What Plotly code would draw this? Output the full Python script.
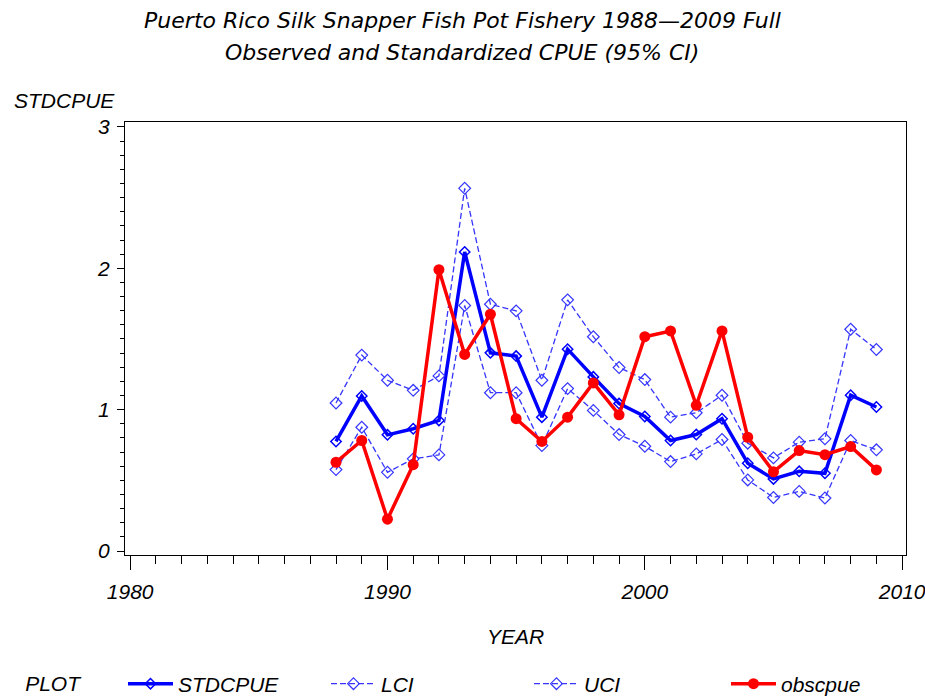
import plotly.graph_objects as go

years = list(range(1988, 2010))
stdcpue = [0.775, 1.097, 0.822, 0.865, 0.924, 2.116, 1.402, 1.379, 0.947, 1.428, 1.232,
           1.043, 0.952, 0.782, 0.824, 0.936, 0.621, 0.510, 0.564, 0.550, 1.102, 1.019]
lci = [0.576, 0.876, 0.557, 0.652, 0.680, 1.737, 1.120, 1.120, 0.746, 1.149, 0.995,
       0.824, 0.741, 0.633, 0.687, 0.789, 0.503, 0.379, 0.422, 0.375, 0.782, 0.716]
uci = [1.047, 1.386, 1.208, 1.137, 1.239, 2.566, 1.746, 1.699, 1.208, 1.777, 1.516,
       1.298, 1.213, 0.947, 0.978, 1.102, 0.763, 0.659, 0.770, 0.794, 1.569, 1.426]
obscpue = [0.628, 0.782, 0.225, 0.611, 1.990, 1.391, 1.675, 0.936, 0.775, 0.947, 1.189,
           0.964, 1.516, 1.557, 1.031, 1.557, 0.805, 0.561, 0.711, 0.682, 0.739, 0.574]

x_ticks = [1980, 1990, 2000, 2010]
y_ticks = [0, 1, 2, 3]

title_line1 = "Puerto Rico Silk Snapper Fish Pot Fishery 1988\u20142009 Full"
title_line2 = "Observed and Standardized CPUE (95% CI)"

FONT = "Liberation Sans"
TFONT = "DejaVu Sans"
fs = 21
tfs = 22
blue = "#0000FF"
ciblue = "#3535FF"
red = "#FF0000"

fig = go.Figure()
fig.add_trace(go.Scatter(x=years, y=stdcpue, name="STDCPUE", mode="lines+markers",
                         line=dict(color=blue, width=3.5), legend="legend",
                         marker=dict(symbol="diamond-open", size=8, color=blue, line=dict(width=1.5))))
fig.add_trace(go.Scatter(x=years, y=lci, name="LCI", mode="lines+markers",
                         line=dict(color=ciblue, width=1.3, dash="6px,3px"), legend="legend",
                         marker=dict(symbol="diamond-open", size=9, color=ciblue, line=dict(width=1.2))))
fig.add_trace(go.Scatter(x=years, y=uci, name="UCI", mode="lines+markers",
                         line=dict(color=ciblue, width=1.3, dash="6px,3px"), legend="legend",
                         marker=dict(symbol="diamond-open", size=9, color=ciblue, line=dict(width=1.2))))
fig.add_trace(go.Scatter(x=years, y=obscpue, name="obscpue", mode="lines+markers",
                         line=dict(color=red, width=3.5), legend="legend2",
                         marker=dict(symbol="circle", size=11, color=red)))

legend_common = dict(orientation="h", xref="container", yref="container", y=0.02,
                     xanchor="left", yanchor="middle", itemwidth=45,
                     font=dict(size=fs, style="italic"), bgcolor="rgba(0,0,0,0)")

fig.update_layout(
    width=925, height=698,
    paper_bgcolor="white", plot_bgcolor="white",
    margin=dict(l=125, r=19, t=122, b=143),
    font=dict(family=FONT, size=fs, color="black", style="italic"),
    title=dict(text=title_line1, x=0.5, xref="container", xanchor="center",
               y=1 - 20 / 698, yref="container", yanchor="middle",
               font=dict(family=TFONT, size=tfs, color="black", style="italic")),
    showlegend=True,
    legend=dict(**legend_common, x=0.025,
                title=dict(text="PLOT\u00a0\u00a0\u00a0\u00a0\u00a0\u00a0", font=dict(size=fs, style="italic")),
                entrywidth=143, entrywidthmode="pixels"),
    legend2=dict(**legend_common, x=(732 - 6) / 925),
)
fig.update_xaxes(range=[1979.8, 2010.15], tickvals=x_ticks, ticktext=[str(v) for v in x_ticks],
                 ticks="outside", ticklen=14, tickwidth=1, tickcolor="black",
                 showline=True, linecolor="black", linewidth=1, mirror=True,
                 showgrid=False, zeroline=False, automargin=False, ticklabeloverflow="allow",
                 minor=dict(dtick=1, tick0=1980, ticks="outside", ticklen=8, tickcolor="black", showgrid=False),
                 ticklabelstandoff=4,
                 title=dict(text="YEAR", standoff=27, font=dict(size=fs, style="italic")))
fig.update_yaxes(range=[-0.028, 3.035], tickvals=y_ticks, ticktext=[str(v) for v in y_ticks],
                 ticks="outside", ticklen=7, tickwidth=1, tickcolor="black",
                 showline=True, linecolor="black", linewidth=1, mirror=True,
                 showgrid=False, zeroline=False, automargin=False,
                 minor=dict(dtick=0.1, tick0=0, ticks="outside", ticklen=4, tickcolor="black", showgrid=False),
                 ticklabelstandoff=3)
fig.add_annotation(text=title_line2, xref="paper", yref="paper", x=(462 - 125) / 781,
                   y=(555 - 52) / 433, xanchor="center", yanchor="middle", showarrow=False,
                   font=dict(family=TFONT, size=tfs, style="italic"))
fig.add_annotation(text="STDCPUE", xref="paper", yref="paper", x=-113 / 781, y=(555 - 101) / 433,
                   xanchor="left", yanchor="middle", showarrow=False,
                   font=dict(family=FONT, size=fs, style="italic"))

fig.write_html("out.html", config={"displayModeBar": False},
               post_script="document.body.style.margin='0';document.body.style.overflow='hidden';")
